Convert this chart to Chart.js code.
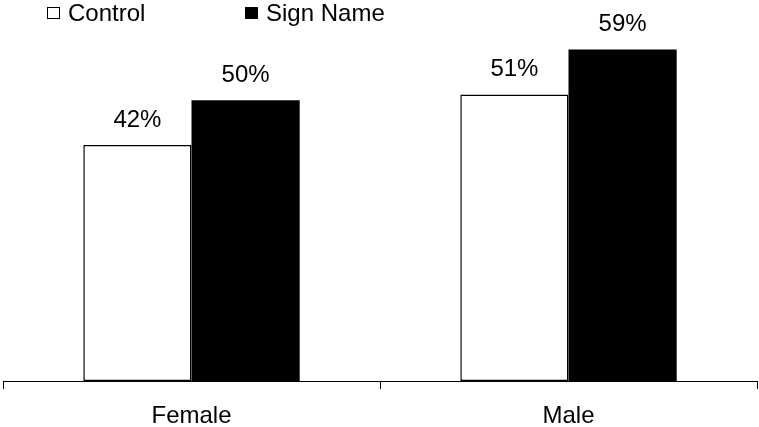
<!DOCTYPE html>
<html>
<head>
<meta charset="utf-8">
<script src="https://cdn.jsdelivr.net/npm/chart.js@4"></script>
<style>
  body { margin: 0; background: #fff; font-family: "Liberation Sans", Arial, sans-serif; }
  #wrap { position: relative; width: 759px; height: 427px; }
  .legend { position: absolute; top: 1px; font-size: 24px; line-height: 24px; color: #000; display: flex; align-items: center; }
  .legend .box { width: 13px; height: 12px; border: 1.5px solid #000; margin-right: 8px; box-sizing: border-box; }
</style>
</head>
<body>
<div id="wrap">
  <canvas id="chart" width="759" height="427"></canvas>
  <div class="legend" style="left:47px"><span class="box" style="background:#fff"></span>Control</div>
  <div class="legend" style="left:245px"><span class="box" style="background:#000"></span>Sign Name</div>
</div>
<script>
const categories = ["Female", "Male"];
const controlValues = [42, 51];
const signNameValues = [50, 59];

// value labels drawn above each bar
const barLabels = {
  id: "barLabels",
  afterDatasetsDraw(chart) {
    const ctx = chart.ctx;
    ctx.save();
    ctx.font = "24px 'Liberation Sans', Arial, sans-serif";
    ctx.fillStyle = "#000";
    ctx.textAlign = "center";
    ctx.textBaseline = "middle";
    chart.data.datasets.forEach((ds, i) => {
      chart.getDatasetMeta(i).data.forEach((bar, j) => {
        ctx.fillText(ds.data[j] + "%", bar.x, bar.y - 25);
      });
    });
    ctx.restore();
  }
};

new Chart(document.getElementById("chart").getContext("2d"), {
  type: "bar",
  data: {
    labels: categories,
    datasets: [
      {
        label: "Control",
        data: controlValues,
        backgroundColor: "#fff",
        borderColor: "#000",
        borderWidth: 1.5,
        borderSkipped: false
      },
      {
        label: "Sign Name",
        data: signNameValues,
        backgroundColor: "#000",
        borderColor: "#000",
        borderWidth: 0
      }
    ]
  },
  options: {
    responsive: false,
    animation: false,
    layout: { padding: { top: 44, left: 3, right: 2, bottom: -16 } },
    datasets: { bar: { categoryPercentage: 0.574, barPercentage: 1 } },
    plugins: {
      legend: { display: false },
      tooltip: { enabled: false }
    },
    scales: {
      x: {
        offset: true,
        grid: {
          offset: true,
          drawOnChartArea: false,
          drawTicks: true,
          tickLength: 8,
          color: "#000"
        },
        border: { display: true, color: "#000", width: 1 },
        ticks: {
          color: "#000",
          padding: 15,
          font: { family: "'Liberation Sans', Arial, sans-serif", size: 24, lineHeight: 1 }
        }
      },
      y: {
        display: false,
        min: 0,
        max: 60
      }
    }
  },
  plugins: [barLabels]
});
</script>
</body>
</html>
